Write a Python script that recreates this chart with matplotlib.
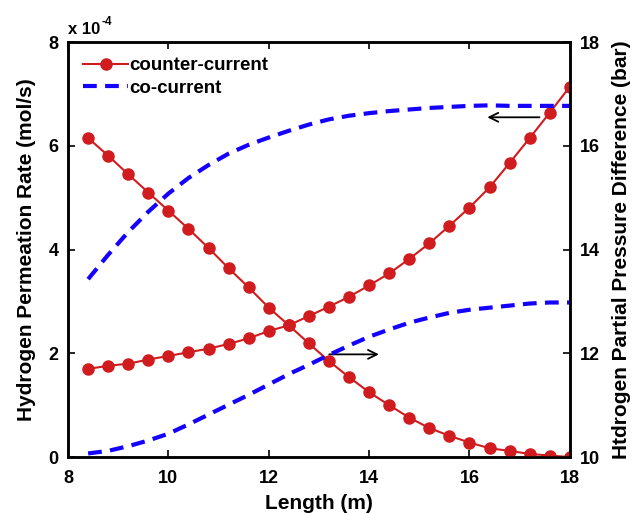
import matplotlib
matplotlib.use('Agg')
import matplotlib.pyplot as plt

plt.rcParams['font.family'] = ['Liberation Sans', 'DejaVu Sans']
plt.rcParams['font.weight'] = 'bold'

# length along the membrane (m)
length = [8.4, 8.8, 9.2, 9.6, 10.0, 10.4, 10.8, 11.2, 11.6, 12.0, 12.4, 12.8, 13.2,
          13.6, 14.0, 14.4, 14.8, 15.2, 15.6, 16.0, 16.4, 16.8, 17.2, 17.6, 18.0]

# permeation rate, in units of 1e-4 mol/s (left axis)
rate_counter = [1.70, 1.76, 1.80, 1.88, 1.95, 2.02, 2.09, 2.18, 2.29, 2.43, 2.54, 2.72, 2.90,
                3.09, 3.31, 3.54, 3.82, 4.12, 4.46, 4.81, 5.20, 5.67, 6.15, 6.64, 7.14]
rate_co = [3.43, 3.90, 4.34, 4.73, 5.08, 5.38, 5.63, 5.85, 6.02, 6.16, 6.29, 6.41, 6.51,
           6.58, 6.63, 6.67, 6.70, 6.73, 6.75, 6.77, 6.78, 6.77, 6.77, 6.77, 6.77]

# partial pressure difference, bar (right axis)
dp_counter = [16.15, 15.81, 15.45, 15.10, 14.75, 14.40, 14.03, 13.64, 13.27, 12.88, 12.54, 12.19, 11.85,
              11.54, 11.25, 11.00, 10.76, 10.56, 10.41, 10.28, 10.17, 10.12, 10.06, 10.03, 10.00]
dp_co = [10.07, 10.12, 10.21, 10.32, 10.45, 10.63, 10.82, 11.01, 11.20, 11.40, 11.60, 11.78, 11.97,
         12.15, 12.32, 12.46, 12.59, 12.69, 12.78, 12.84, 12.88, 12.92, 12.96, 12.98, 12.98]

red = '#d01c1f'
blue = '#1400ff'

fig = plt.figure(figsize=(6.36, 5.13), dpi=100)
ax = fig.add_axes([0.107, 0.109, 0.789, 0.809])
ax2 = ax.twinx()

l1, = ax.plot(length, rate_counter, color=red, lw=1.5, marker='o', markersize=8, label='counter-current')
l2, = ax.plot(length, rate_co, color=blue, lw=3, dashes=(3.3, 2), label='co-current')
ax2.plot(length, dp_counter, color=red, lw=1.5, marker='o', markersize=8)
ax2.plot(length, dp_co, color=blue, lw=3, dashes=(3.3, 2))

ax.set_xlim(8, 18)
ax.set_ylim(0, 8)
ax2.set_ylim(10, 18)
ax.set_xticks([8, 10, 12, 14, 16, 18])
ax.set_yticks([0, 2, 4, 6, 8])
ax2.set_yticks([10, 12, 14, 16, 18])

for a in (ax, ax2):
    a.tick_params(direction='in', length=5, width=1.2, labelsize=13, pad=7)
    for s in a.spines.values():
        s.set_linewidth(1.8)
ax.tick_params(top=True)
ax.tick_params(axis='x', pad=9)

ax.set_xlabel('Length (m)', fontsize=15, fontweight='bold', labelpad=5)
ax.set_ylabel('Hydrogen Permeation Rate (mol/s)', fontsize=15, fontweight='bold', labelpad=9)
ax2.set_ylabel('Htdrogen Partial Pressure Difference (bar)', fontsize=15, fontweight='bold', labelpad=9)

ax.text(0.0, 1.012, 'x 10', transform=ax.transAxes, fontsize=12, fontweight='bold', ha='left', va='bottom')
ax.text(0.066, 1.033, '-4', transform=ax.transAxes, fontsize=8.5, fontweight='bold', ha='left', va='bottom')

# arrows showing which axis each pair of curves belongs to
ax.annotate('', xy=(16.3, 6.55), xytext=(17.45, 6.55),
            arrowprops=dict(arrowstyle='->', color='black', lw=1.3, mutation_scale=16))
ax.annotate('', xy=(14.25, 1.98), xytext=(13.15, 1.98),
            arrowprops=dict(arrowstyle='->', color='black', lw=1.3, mutation_scale=16))

ax.legend(handles=[l1, l2], loc='upper left', frameon=False, fontsize=13.5,
          handlelength=2.4, handletextpad=0.05, borderaxespad=0.3, borderpad=0.5, labelspacing=0.3)

fig.savefig('out.png', dpi=100)
